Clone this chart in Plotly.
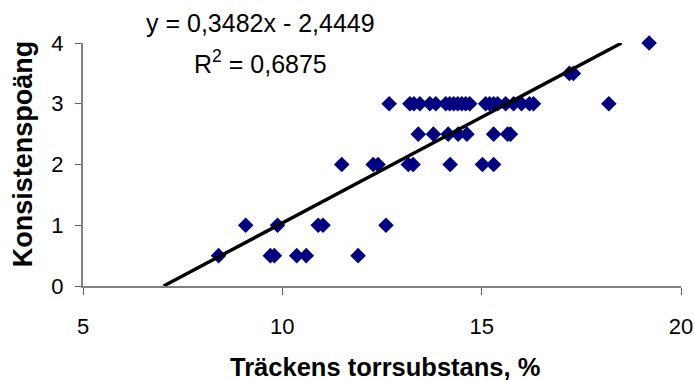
import plotly.graph_objects as go

# Data
x_half = [8.4, 9.7, 9.8, 10.36, 10.6, 11.9]
x_one = [9.08, 9.88, 10.9, 11.02, 12.6]
x_two = [11.49, 12.28, 12.4, 13.16, 13.28, 14.21, 15.02, 15.3]
x_two_half = [13.41, 13.79, 14.16, 14.41, 14.63, 15.3, 15.65, 15.72]
x_three = [12.68, 13.2, 13.3, 13.45, 13.7, 13.85, 14.1, 14.2, 14.3, 14.4, 14.5,
           14.6, 14.7, 15.1, 15.2, 15.3, 15.4, 15.6, 15.8, 16.0, 16.2, 16.3, 18.19]
x_three_half = [17.2, 17.3]
x_four = [19.2]

slope = 0.3482
intercept = -2.4449
r2 = 0.6875

xs = x_half + x_one + x_two + x_two_half + x_three + x_three_half + x_four
ys = ([0.5] * len(x_half) + [1] * len(x_one) + [2] * len(x_two)
      + [2.5] * len(x_two_half) + [3] * len(x_three)
      + [3.5] * len(x_three_half) + [4] * len(x_four))

y_lo, y_hi = 0, 4
line_x = [(y_lo - intercept) / slope, (y_hi - intercept) / slope]
line_y = [slope * v + intercept for v in line_x]

FONT = "Liberation Sans, Arial, sans-serif"

fig = go.Figure()
fig.add_trace(go.Scatter(
    x=xs, y=ys, mode="markers",
    marker=dict(symbol="diamond", size=12, color="#000080", line=dict(width=0)),
    cliponaxis=False, showlegend=False,
))
fig.add_trace(go.Scatter(
    x=line_x, y=line_y, mode="lines",
    line=dict(color="black", width=3.4), showlegend=False,
))

fig.update_layout(
    width=694, height=380,
    margin=dict(l=83, r=13, t=43, b=94, autoexpand=False),
    paper_bgcolor="white", plot_bgcolor="white",
    font=dict(family=FONT, color="black"),
    xaxis=dict(
        range=[5, 20], tickvals=[5, 10, 15, 20], showgrid=False, zeroline=False,
        showline=True, linecolor="#808080", linewidth=2, automargin=False,
        ticks="outside", ticklen=7, tickcolor="#606060", tickwidth=1,
        tickfont=dict(size=22, family=FONT), ticklabelstandoff=13,
    ),
    yaxis=dict(
        range=[0, 4], tickvals=[0, 1, 2, 3, 4], showgrid=False, zeroline=False,
        showline=True, linecolor="#808080", linewidth=2, automargin=False,
        ticks="outside", ticklen=6, tickcolor="#606060", tickwidth=1,
        tickfont=dict(size=22, family=FONT), ticklabelstandoff=7,
    ),
    annotations=[
        dict(text=f"y = {str(slope).replace('.', ',')}x - {str(abs(intercept)).replace('.', ',')}",
             xref="paper", yref="paper", x=0.296, y=1.084, showarrow=False,
             xanchor="center", yanchor="middle", font=dict(size=25, family=FONT)),
        dict(text=f"R<sup>2</sup> = {str(r2).replace('.', ',')}",
             xref="paper", yref="paper", x=0.296, y=0.923, showarrow=False,
             xanchor="center", yanchor="middle", font=dict(size=25, family=FONT)),
        dict(text="<b>Träckens torrsubstans, %</b>",
             xref="paper", yref="paper", x=0.505, y=-0.335, showarrow=False,
             xanchor="center", yanchor="middle", font=dict(size=25.5, family=FONT)),
        dict(text="<b>Konsistenspoäng</b>", textangle=-90,
             xref="paper", yref="paper", x=-0.101, y=0.545, showarrow=False,
             xanchor="center", yanchor="middle", font=dict(size=27, family=FONT)),
    ],
)

fig.write_html("out.html")
